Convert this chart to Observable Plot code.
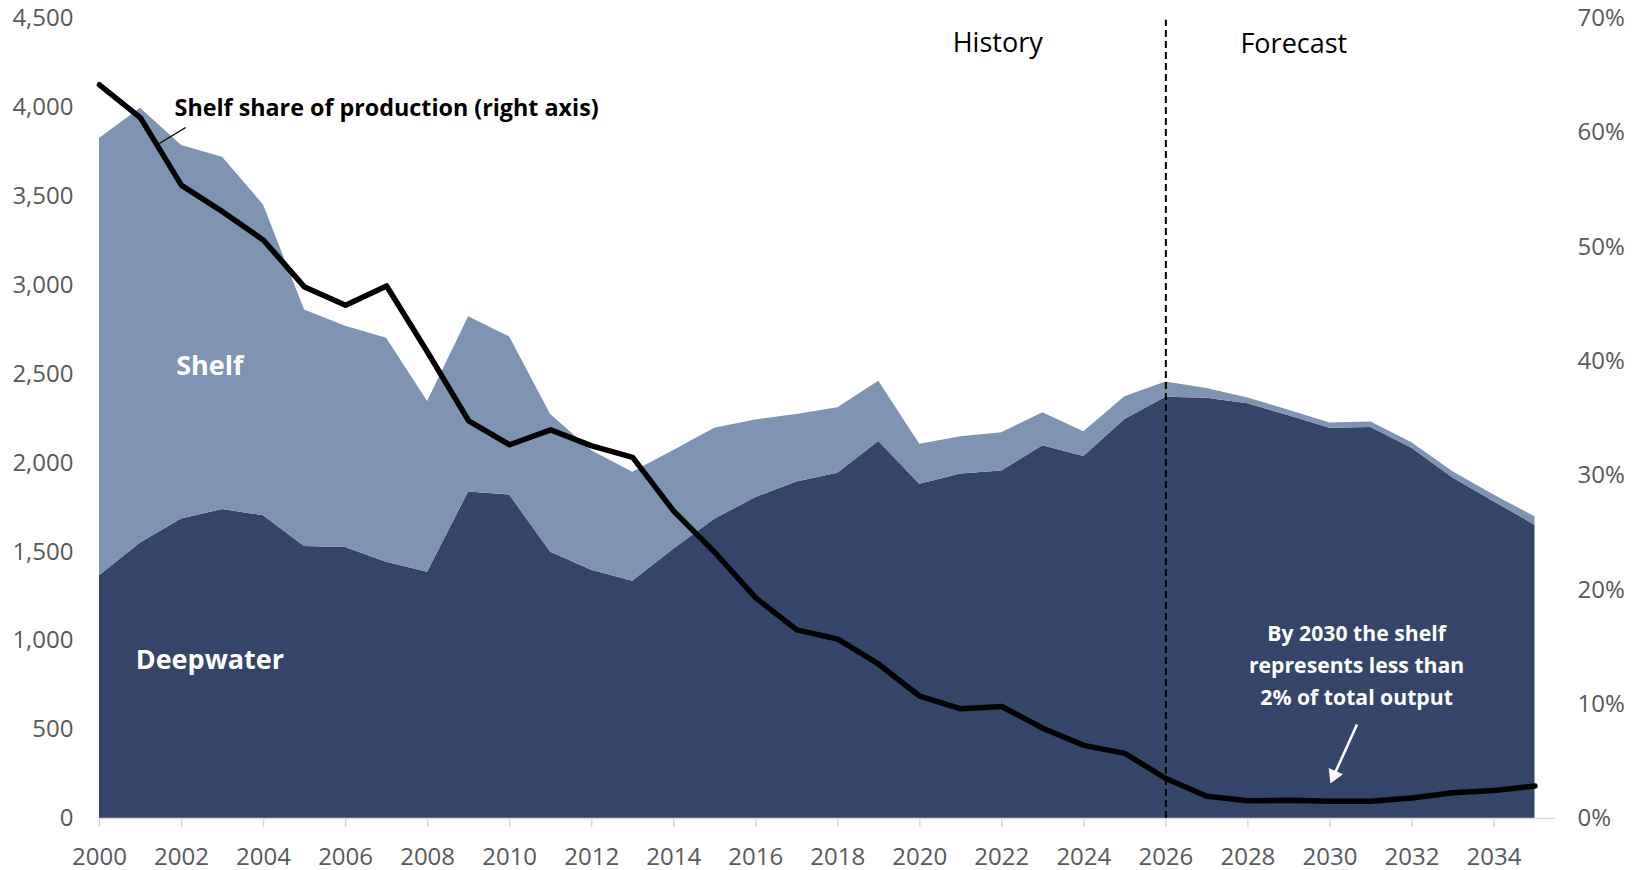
<!DOCTYPE html>
<html>
<head>
<meta charset="utf-8">
<script src="https://cdn.jsdelivr.net/npm/d3@7"></script>
<script src="https://cdn.jsdelivr.net/npm/@observablehq/plot@0.6"></script>
<style>
  html, body { margin: 0; padding: 0; background: #ffffff; }
  #chart svg { display: block; }
</style>
</head>
<body>
<div id="chart"></div>
<script>
// ---- Data ----
const years = [2000, 2001, 2002, 2003, 2004, 2005, 2006, 2007, 2008, 2009,
               2010, 2011, 2012, 2013, 2014, 2015, 2016, 2017, 2018, 2019,
               2020, 2021, 2022, 2023, 2024, 2025, 2026, 2027, 2028, 2029,
               2030, 2031, 2032, 2033, 2034, 2035];

// Deepwater production (left axis)
const deepwater = [1365, 1550, 1685, 1738, 1703, 1530, 1524, 1442, 1385, 1837,
                   1820, 1497, 1396, 1335, 1515, 1683, 1805, 1893, 1942, 2120,
                   1880, 1938, 1955, 2097, 2036, 2245, 2370, 2364, 2333, 2265,
                   2195, 2200, 2082, 1915, 1782, 1650];

// Shelf production (left axis), stacked on top of deepwater
const shelf = [2460, 2445, 2100, 1982, 1748, 1330, 1245, 1260, 960, 985,
               888, 775, 672, 613, 555, 512, 437, 380, 368, 340,
               225, 210, 215, 186, 140, 128, 86, 55, 33, 32,
               30, 30, 32, 36, 38, 47];

// Shelf share of production, % (right axis)
const shelfShare = [64.2, 61.3, 55.4, 53.1, 50.6, 46.5, 44.9, 46.6, 40.8, 34.8,
                    32.7, 34.0, 32.6, 31.6, 26.9, 23.3, 19.3, 16.5, 15.7, 13.5,
                    10.7, 9.6, 9.8, 7.9, 6.4, 5.7, 3.5, 1.95, 1.55, 1.6,
                    1.5, 1.5, 1.8, 2.25, 2.45, 2.85];

const seriesNames = ["Deepwater", "Shelf"];
const leftTicks = [0, 500, 1000, 1500, 2000, 2500, 3000, 3500, 4000, 4500];
const rightTicks = [0, 10, 20, 30, 40, 50, 60, 70];
const yearTicks = [2000, 2002, 2004, 2006, 2008, 2010, 2012, 2014, 2016,
                   2018, 2020, 2022, 2024, 2026, 2028, 2030, 2032, 2034];
const forecastStart = 2026;

// ---- Build tables ----
const leftMax = 4500;
const rightMax = 70;
const k = leftMax / rightMax; // maps % on right axis to left-axis units

const stacked = years.flatMap((yr, i) => [
  {year: yr, series: seriesNames[0], value: deepwater[i]},
  {year: yr, series: seriesNames[1], value: shelf[i]}
]);
const shareRows = years.map((yr, i) => ({year: yr, share: shelfShare[i]}));

const DARK = "#344569";
const LIGHT = "#7f93b3";
const GRAY_TEXT = "#595959";
const AXIS_GRAY = "#d9d9d9";
const FONT = "'Open Sans', 'Noto Sans', sans-serif";
const TICK_FONT = 24;

const chart = Plot.plot({
  width: 1635,
  height: 870,
  marginLeft: 99,
  marginRight: 80,
  marginTop: 18,
  marginBottom: 52,
  style: {fontFamily: FONT, fontSize: "24px", background: "#ffffff", overflow: "visible"},
  x: {type: "linear", domain: [2000, 2035.5], axis: null},
  y: {domain: [0, leftMax], axis: null},
  color: {domain: seriesNames, range: [DARK, LIGHT]},
  marks: [
    Plot.areaY(stacked, {x: "year", y: "value", fill: "series", order: seriesNames}),
    Plot.ruleY([0], {stroke: AXIS_GRAY, strokeWidth: 1.5}),
    Plot.axisX(yearTicks, {
      anchor: "bottom", tickSize: 9, tickPadding: 20, label: null,
      stroke: AXIS_GRAY, strokeWidth: 1.5, fill: GRAY_TEXT, fontSize: TICK_FONT,
      tickFormat: d => String(d)
    }),
    Plot.axisY(leftTicks, {
      anchor: "left", tickSize: 0, tickPadding: 26, label: null,
      fill: GRAY_TEXT, fontSize: TICK_FONT, tickFormat: d3.format(",")
    }),
    Plot.axisY(rightTicks.map(t => t * k), {
      anchor: "right", tickSize: 0, tickPadding: 22, label: null,
      fill: GRAY_TEXT, fontSize: TICK_FONT, tickFormat: d => `${Math.round(d / k)}%`
    }),
    Plot.ruleX([forecastStart], {y1: 0, y2: 4490, stroke: "#000", strokeWidth: 2, strokeDasharray: "7,4"}),
    Plot.lineY(shareRows, {
      x: "year", y: d => d.share * k, stroke: "#000", strokeWidth: 5.5,
      strokeLinejoin: "round", strokeLinecap: "round"
    }),
    // annotations
    Plot.text(["History"], {x: 2021.9, y: 4359, fontSize: 27, fill: "#000"}),
    Plot.text(["Forecast"], {x: 2029.12, y: 4357, fontSize: 27, fill: "#000"}),
    Plot.text(["Shelf share of production (right axis)"], {
      x: 2001.83, y: 3991, textAnchor: "start", fontSize: 23.3, fontWeight: "bold", fill: "#000"
    }),
    Plot.link([0], {x1: 2001.46, y1: 3797, x2: 2002.10, y2: 3887, stroke: "#000", strokeWidth: 1.3}),
    Plot.text(["Shelf"], {x: 2002.69, y: 2543, fontSize: 27, fontWeight: "bold", fill: "#ffffff"}),
    Plot.text(["Deepwater"], {x: 2002.69, y: 889, fontSize: 27, fontWeight: "bold", fill: "#ffffff"}),
    Plot.text(["By 2030 the shelf\nrepresents less than\n2% of total output"], {
      x: 2030.65, y: 875, fontSize: 21.2, fontWeight: "bold", fill: "#ffffff", lineHeight: 1.5
    }),
    // arrow: shaft + filled triangular head
    Plot.link([0], {
      x1: 2030.66, y1: 529, x2: 2030.10, y2: 243,
      stroke: "#ffffff", strokeWidth: 2.6
    }),
    Plot.dot([0], {
      x: 2030.10, y: 243, symbol: "triangle", r: 5.8, rotate: 203.8,
      fill: "#ffffff", stroke: "none"
    })
  ]
});

document.getElementById("chart").appendChild(chart);
</script>
</body>
</html>
